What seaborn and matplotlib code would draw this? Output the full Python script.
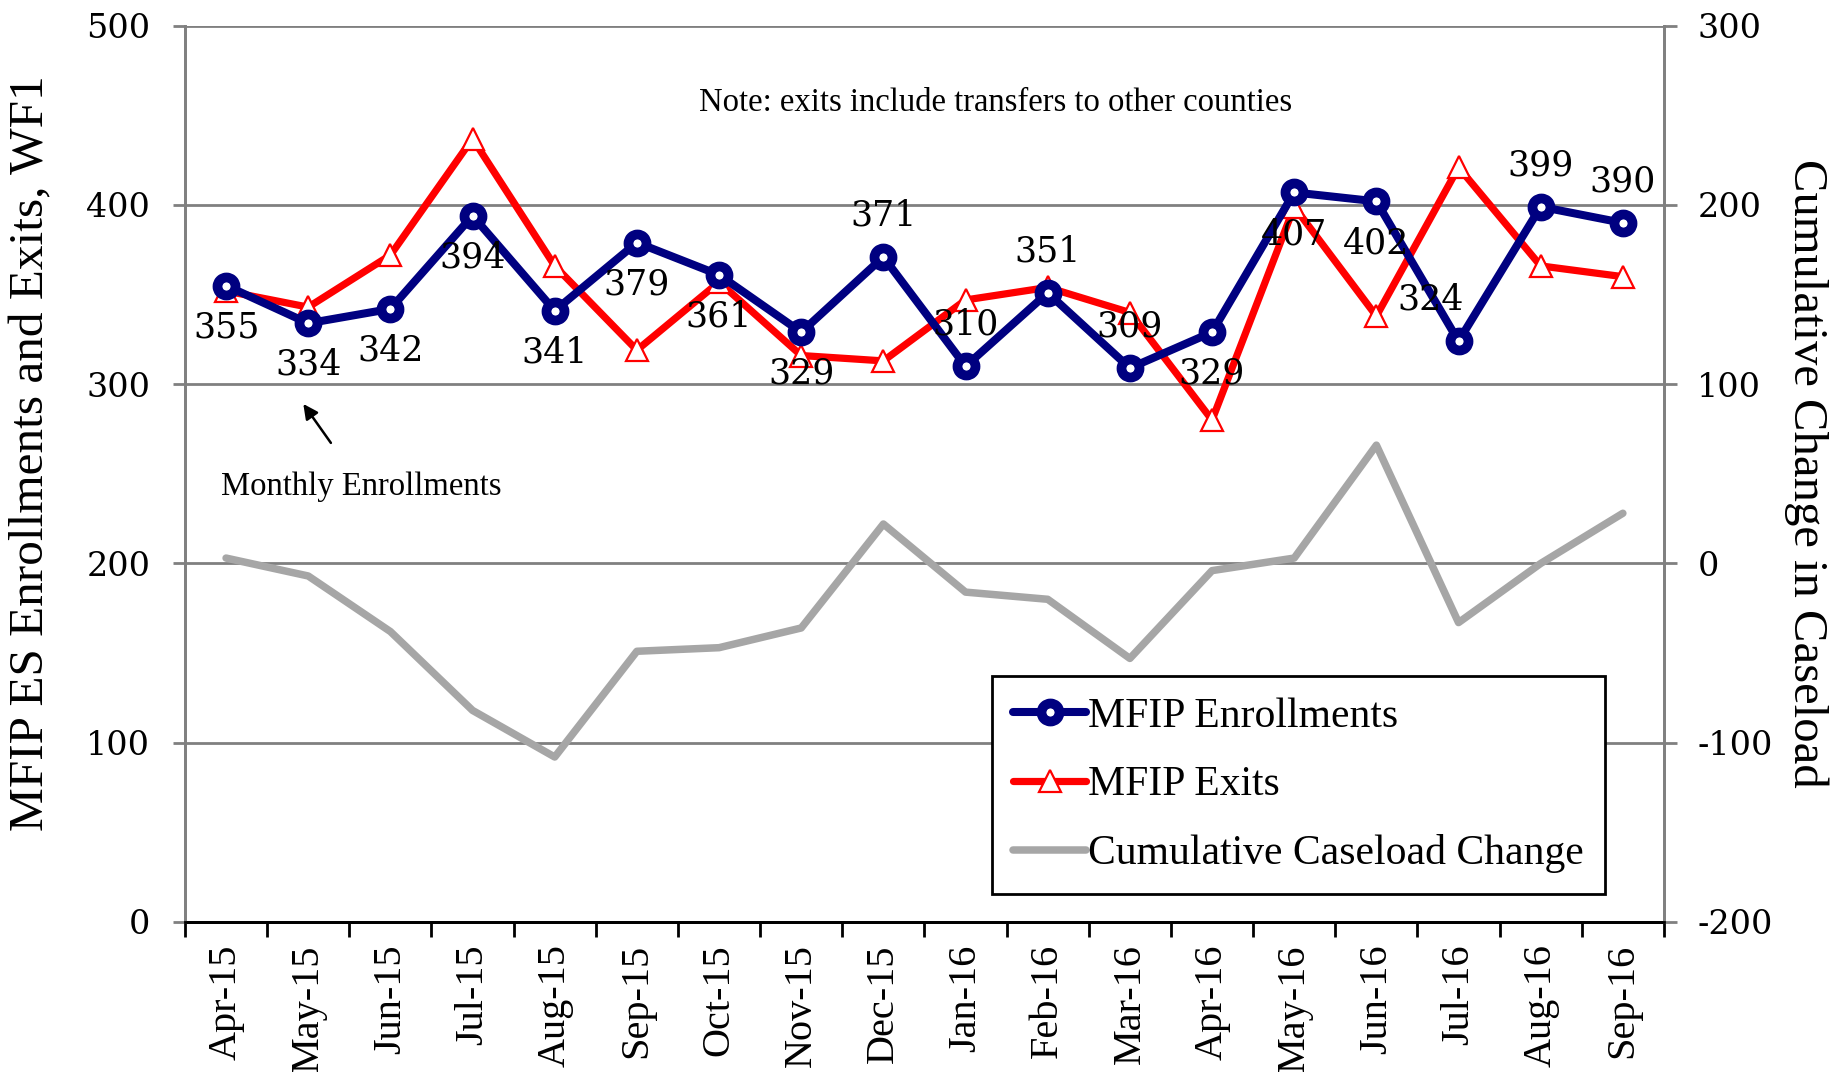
import numpy as np
import pandas as pd
import matplotlib
matplotlib.use('Agg')
import matplotlib.pyplot as plt
import seaborn as sns

# data
months = ['Apr-15', 'May-15', 'Jun-15', 'Jul-15', 'Aug-15', 'Sep-15',
          'Oct-15', 'Nov-15', 'Dec-15', 'Jan-16', 'Feb-16', 'Mar-16',
          'Apr-16', 'May-16', 'Jun-16', 'Jul-16', 'Aug-16', 'Sep-16']
enrollments = [355, 334, 342, 394, 341, 379, 361, 329, 371, 310, 351, 309,
               329, 407, 402, 324, 399, 390]
exits = [352, 343, 372, 437, 366, 319, 357, 316, 313, 347, 354, 340,
         280, 399, 338, 421, 366, 360]
cumulative = [3, -7, -38, -82, -108, -49, -47, -36, 22, -16, -20, -53,
              -4, 3, 66, -33, 0, 28]

left_ticks = [0, 100, 200, 300, 400, 500]
right_ticks = [-200, -100, 0, 100, 200, 300]

# label placement: +1 above the marker, -1 below
label_side = [-1, -1, -1, -1, -1, -1, -1, -1, 1, 1, 1, 1, -1, -1, -1, 1, 1, 1]

data = pd.DataFrame({'pos': np.arange(len(months)), 'month': months,
                     'enroll': enrollments, 'exits': exits, 'cum': cumulative})

sns.set_theme(style='white')
plt.rcParams['font.family'] = ['Liberation Serif', 'DejaVu Serif']
plt.rcParams['text.color'] = 'black'
plt.rcParams['axes.labelcolor'] = 'black'
plt.rcParams['xtick.color'] = 'black'
plt.rcParams['ytick.color'] = 'black'

fig = plt.figure(figsize=(18.37, 10.72), dpi=100)
ax = fig.add_axes([0.1007, 0.140, 0.8051, 0.836])
ax2 = ax.twinx()

sns.lineplot(data=data, x='pos', y='enroll', ax=ax, color='#000080', lw=5.8,
             marker='o', markersize=13, markerfacecolor='white',
             markeredgecolor='#000080', markeredgewidth=7,
             label='MFIP Enrollments', zorder=4)
sns.lineplot(data=data, x='pos', y='exits', ax=ax, color='#FF0000', lw=5.2,
             marker='^', markersize=16, markerfacecolor='white',
             markeredgecolor='#FF0000', markeredgewidth=1.6,
             label='MFIP Exits', zorder=3)
sns.lineplot(data=data, x='pos', y='cum', ax=ax2, color='#A6A6A6', lw=5.4,
             label='Cumulative Caseload Change', zorder=2)

tick_font = dict(family='DejaVu Serif', size=24, color='black')

ax.set_xlim(-0.5, len(months) - 0.5)
ax.set_ylim(0, 500)
ax.set_yticks(left_ticks)
ax.set_yticklabels([str(t) for t in left_ticks], fontdict=tick_font)
ax2.set_ylim(-200, 300)
ax2.set_yticks(right_ticks)
ax2.set_yticklabels([str(t) for t in right_ticks], fontdict=tick_font)

ax.set_xticks(data['pos'])
ax.set_xticklabels(months, rotation=90, fontsize=29, color='black')
ax.set_xticks(np.arange(-0.5, len(months)), minor=True)
ax.tick_params(axis='x', which='major', length=0, pad=16)
ax.tick_params(axis='x', which='minor', length=11, width=2, color='black',
               direction='out', bottom=True)
ax.tick_params(axis='y', length=9, width=2, color='#808080', pad=16, left=True)
ax2.tick_params(axis='y', length=9, width=2, color='#808080', pad=15, right=True)

ax.grid(axis='y', color='#808080', lw=2)
ax.grid(axis='x', visible=False)
ax2.grid(False)
ax.set_axisbelow(True)

for a in (ax, ax2):
    a.spines['top'].set_visible(False)
    a.spines['left'].set_color('#808080')
    a.spines['right'].set_color('#808080')
    a.spines['left'].set_linewidth(2)
    a.spines['right'].set_linewidth(2)
    a.spines['bottom'].set_color('black')
    a.spines['bottom'].set_linewidth(2)

ax.set_xlabel('')
ax.set_ylabel('MFIP ES Enrollments and Exits, WF1', fontsize=35.5)
ax.yaxis.set_label_coords(-0.089, 0.523)
ax2.set_ylabel('Cumulative Change in Caseload', fontsize=35, rotation=270,
               labelpad=40)

# value labels on the enrollment line
for i, v in enumerate(enrollments):
    dx = -20 if months[i] == 'Jul-16' else 0
    ax.annotate(str(v), (i, v), xytext=(dx, 30 * label_side[i]),
                textcoords='offset points', ha='center', va='center',
                fontsize=25, family='DejaVu Serif', color='black', zorder=6)

ax.text(9.37, 457, 'Note: exits include transfers to other counties',
        ha='center', va='center', fontsize=23.5)
ax.annotate('Monthly Enrollments', xy=(0.94, 289), xytext=(1.65, 243),
            ha='center', va='center', fontsize=23.5,
            arrowprops=dict(arrowstyle='-|>', color='black', lw=1.8,
                            shrinkA=22, shrinkB=0, mutation_scale=22))

h1, l1 = ax.get_legend_handles_labels()
h2, l2 = ax2.get_legend_handles_labels()
if ax.get_legend():
    ax.get_legend().remove()
leg = ax2.legend(h1 + h2, l1 + l2, loc='lower right',
                 bbox_to_anchor=(0.960, 0.031), borderaxespad=0,
                 fontsize=30, frameon=True, fancybox=False, edgecolor='black',
                 framealpha=1, handlelength=1.75, handletextpad=0.05,
                 labelspacing=0.72, borderpad=0.5, numpoints=1)
leg.get_frame().set_linewidth(2)

plt.savefig('out.png', dpi=100)
plt.close()
print('Saved: out.png')
